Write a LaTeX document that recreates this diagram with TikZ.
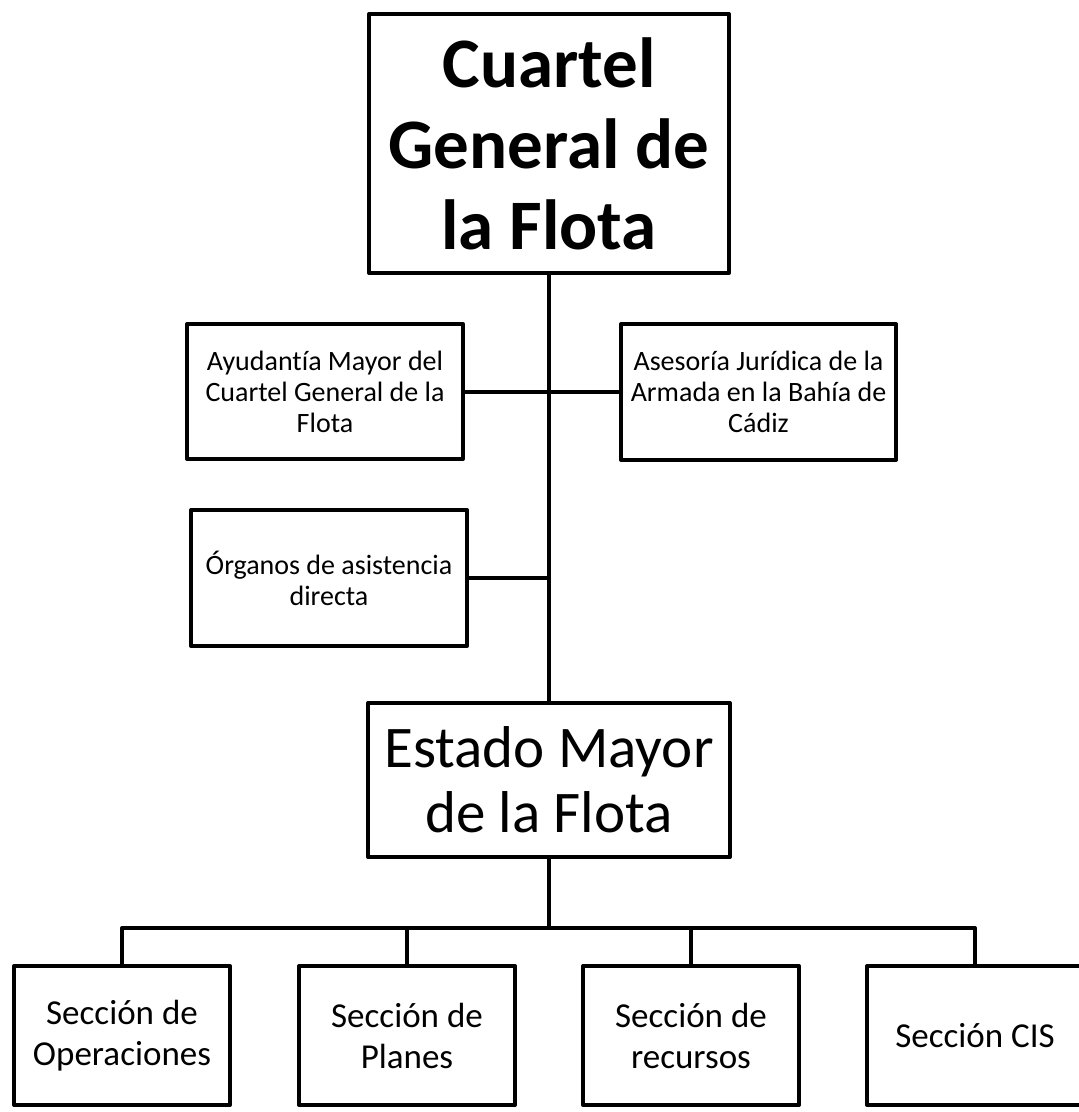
\documentclass[tikz,border=0pt]{standalone}
\usepackage{fontspec}
\setmainfont{Carlito}[Ligatures=CommonOff]
\begin{document}
\begin{tikzpicture}[x=1pt,y=-1pt,
  box/.style={draw=black,line width=4pt,line join=round,rectangle,inner sep=0pt,align=center,fill=white},
  smalltxt/.style={font=\fontsize{28}{31}\selectfont},
  sectxt/.style={font=\fontsize{35}{41}\selectfont},
  conn/.style={draw=black,line width=4pt,line cap=butt}]
\useasboundingbox (0,0) rectangle (1079,1112);
\clip (0,0) rectangle (1079,1112);
% nodes
\node[box,minimum width=360pt,minimum height=259pt,font=\fontsize{71}{81}\selectfont\bfseries] (top) at (549,143.5) {Cuartel\\General de\\la Flota};
\node[box,smalltxt,minimum width=276pt,minimum height=135pt] (ayu) at (325,391.5) {Ayudantía Mayor del\\Cuartel General de la\\Flota};
\node[box,smalltxt,minimum width=275pt,minimum height=136pt] (ase) at (758.5,392) {Asesoría Jurídica de la\\Armada en la Bahía de\\Cádiz};
\node[box,smalltxt,minimum width=276pt,minimum height=136pt] (org) at (329,578) {Órganos de asistencia\\directa};
\node[box,minimum width=362pt,minimum height=154pt,font=\fontsize{59}{65}\selectfont] (em) at (549,780) {Estado Mayor\\de la Flota};
\node[box,sectxt,minimum width=216pt,minimum height=139pt] (s1) at (122,1035.5) {Sección de\\Operaciones};
\node[box,sectxt,minimum width=216pt,minimum height=139pt] (s2) at (407,1035.5) {Sección de\\Planes};
\node[box,sectxt,minimum width=216pt,minimum height=139pt] (s3) at (691,1035.5) {Sección de\\recursos};
\node[box,sectxt,minimum width=216pt,minimum height=139pt] (s4) at (975,1035.5) {Sección CIS};
\coordinate (bus) at (549,928);
% connectors
\draw[conn] (top.south) -- (em.north);
\draw[conn] (ayu.east) -- (ayu.east -| top.south);
\draw[conn] (ase.west) -- (ase.west -| top.south);
\draw[conn] (org.east) -- (org.east -| top.south);
\draw[conn] (em.south) -- (bus);
\draw[conn,line join=round] (s1.north) -- (s1.north |- bus) -- (s4.north |- bus) -- (s4.north);
\draw[conn] (s2.north) -- (s2.north |- bus);
\draw[conn] (s3.north) -- (s3.north |- bus);
\end{tikzpicture}
\end{document}
